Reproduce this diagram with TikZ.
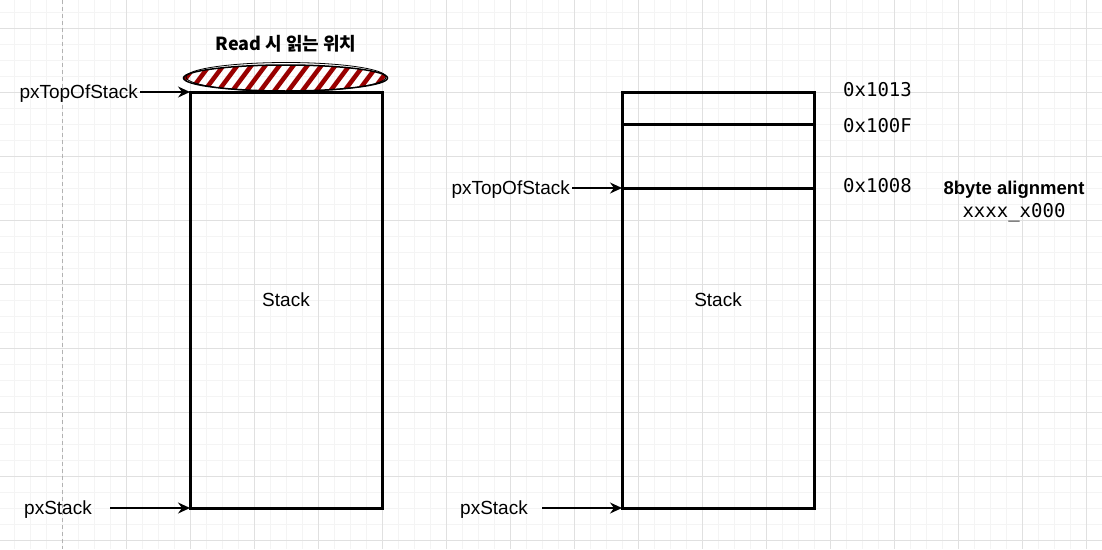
\documentclass[tikz,border=0pt]{standalone}
\usepackage{fontspec}
\setmainfont{Liberation Sans}
\newfontfamily\monofont{DejaVu Sans Mono}
\newfontfamily\krfont{Noto Sans CJK KR}
\usetikzlibrary{arrows.meta,positioning}
\definecolor{gridminor}{HTML}{F4F4F4}
\definecolor{gridmajor}{HTML}{E0E0E0}
\definecolor{hatchred}{HTML}{990000}

\begin{document}
\begin{tikzpicture}[x=1pt,y=-1pt,
    stackbox/.style={draw,line width=3pt,outer sep=0pt,minimum width=192pt,minimum height=416pt,font=\fontsize{19}{22}\selectfont},
    lbl/.style={inner sep=2pt,text height=14pt,text depth=3pt,font=\fontsize{19}{22}\selectfont},
    addr/.style={lbl,anchor=west,font=\monofont\fontsize{19}{22}\selectfont},
    ptr/.style={-{Stealth[length=12pt,width=11pt,inset=4pt]},line width=1.5pt}]
    \useasboundingbox (0,0) rectangle (1102,549);
    \foreach \i in {14,30,...,1102} \draw[gridminor] (\i,0) -- (\i,549);
    \foreach \i in {12,28,...,549} \draw[gridminor] (0,\i) -- (1102,\i);
    \foreach \i in {126,190,...,1102} \draw[gridmajor] (\i,0) -- (\i,549);
    \foreach \i in {28,92,...,549} \draw[gridmajor] (0,\i) -- (1102,\i);
    \draw[black!30,dashed,dash pattern=on 4pt off 3pt] (62,0) -- (62,549);
    % left stack
    \begin{scope}
      \clip (285.5,78) ellipse [x radius=102,y radius=13];
      \foreach \x in {160,174,...,400} \draw[hatchred,line width=4.5pt] (\x,94) -- ++(24,-32);
    \end{scope}
    \draw[line width=1.5pt] (285.5,78) ellipse [x radius=102,y radius=13];
    \draw[line width=0.8pt] (286,77) ellipse [x radius=100,y radius=14.5];
    \node[lbl,font=\krfont\bfseries\fontsize{18}{22}\selectfont] (readpos) at (286,45) {Read 시 읽는 위치};
    \node[stackbox] (stackL) at (286,300) {Stack};
    \node[lbl,anchor=east] (topL) at (140,93) {pxTopOfStack};
    \draw[ptr] (topL.east |- stackL.north west) -- (stackL.north west);
    \node[lbl] (baseL) at (58,509) {pxStack};
    \coordinate (baseLa) at (110,508);
    \draw[ptr] (baseLa) -- (stackL.south west);
    % right stack
    \node[stackbox] (stackR) at (718,300) {Stack};
    \coordinate (slot1W) at (622,124);
    \coordinate (slot1E) at (814,124);
    \coordinate (slot2W) at (622,188);
    \coordinate (slot2E) at (814,188);
    \draw[line width=3pt] (slot1W) -- (slot1E);
    \draw[line width=3pt] (slot2W) -- (slot2E);
    \node[lbl,anchor=east] (topR) at (572,189) {pxTopOfStack};
    \draw[ptr] (topR.east |- slot2W) -- (slot2W);
    \node[lbl] (baseR) at (494,509) {pxStack};
    \coordinate (baseRa) at (542,508);
    \draw[ptr] (baseRa) -- (stackR.south west);
    \node[addr] (a1013) at (841,91) {0x1013};
    \node[addr] (a100F) at (841,127) {0x100F};
    \node[addr] (a1008) at (841,187) {0x1008};
    \node[lbl,font=\bfseries\fontsize{18.5}{22}\selectfont] (align) at (1014,189) {8byte alignment};
    \node[lbl,font=\monofont\fontsize{19}{22}\selectfont] (mask) at (1014,212) {xxxx\_x000};
\end{tikzpicture}
\end{document}
